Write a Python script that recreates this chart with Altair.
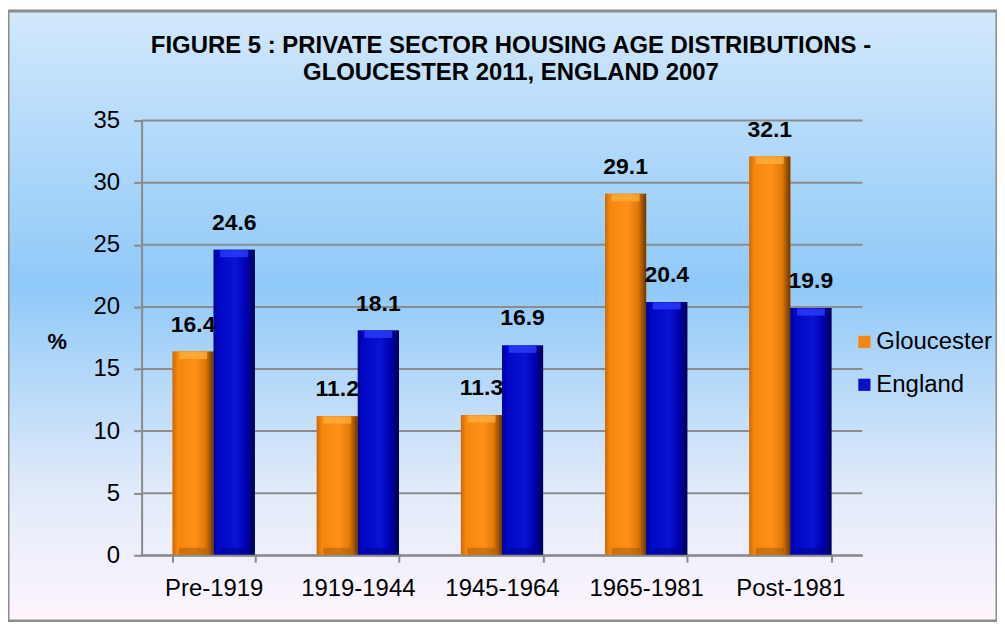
import altair as alt
import pandas as pd

categories = ["Pre-1919", "1919-1944", "1945-1964", "1965-1981", "Post-1981"]
gloucester = [16.4, 11.2, 11.3, 29.1, 32.1]
england = [24.6, 18.1, 16.9, 20.4, 19.9]
series = ["Gloucester", "England"]
y_ticks = [0, 5, 10, 15, 20, 25, 30, 35]
title_lines = ["FIGURE 5 : PRIVATE SECTOR HOUSING AGE DISTRIBUTIONS -",
               "GLOUCESTER 2011, ENGLAND 2007"]

rows = []
for c, g, e in zip(categories, gloucester, england):
    rows.append({"period": c, "area": "Gloucester", "pct": g})
    rows.append({"period": c, "area": "England", "pct": e})
df = pd.DataFrame(rows)
grid_df = pd.DataFrame({"v": y_ticks})

W, H = 723, 436
FONT = "Liberation Sans"

x_enc = alt.X("period:N", sort=categories,
              scale=alt.Scale(domain=categories, paddingInner=0.43, paddingOuter=0.215),
              axis=alt.Axis(title=None, labelAngle=0, labelFontSize=24, labelColor="#000000",
                            labelFont=FONT, labelPadding=14, tickBand="extent", tickSize=7,
                            tickWidth=2, tickColor="#8a8a8a", domainColor="#8a8a8a",
                            domainWidth=2, grid=False, zindex=1))
xoff = alt.XOffset("area:N", sort=series,
                   scale=alt.Scale(domain=series, paddingInner=0, paddingOuter=0))
y_enc = alt.Y("pct:Q", scale=alt.Scale(domain=[0, 35], nice=False),
              axis=alt.Axis(values=y_ticks, title="%", titleAngle=0, titleFontSize=22,
                            titleFont=FONT, titleFontWeight="bold", titleX=-85, titleY=222,
                            titleAlign="center", titleBaseline="middle",
                            labelFontSize=24, labelFont=FONT, labelColor="#000000",
                            labelPadding=14, tickSize=8, tickWidth=2, tickColor="#8a8a8a",
                            domainColor="#8a8a8a", domainWidth=2, grid=False, zindex=1))

bg_grad = alt.Gradient(gradient="linear", x1=0, x2=0, y1=0, y2=1, stops=[
    alt.GradientStop(offset=0, color="#d2e8fb"),
    alt.GradientStop(offset=0.45, color="#8fc9f8"),
    alt.GradientStop(offset=0.78, color="#e0eafa"),
    alt.GradientStop(offset=1, color="#fff5fd"),
])
one = alt.Data(values=[{"k": 1}])
background = alt.Chart(one).mark_rect(fill=bg_grad, clip=False).encode(
    x=alt.value(-134), x2=alt.value(858), y=alt.value(-110), y2=alt.value(502))
frame = alt.Chart(one).mark_rect(fill=None, stroke="#8c8c8c", strokeWidth=3, clip=False).encode(
    x=alt.value(-134), x2=alt.value(858), y=alt.value(-110), y2=alt.value(502))

grid = alt.Chart(grid_df).mark_rule(color="#8c8c8c", strokeWidth=2).encode(
    y=alt.Y("v:Q", scale=alt.Scale(domain=[0, 35], nice=False)))

legend_bars = alt.Chart(df).mark_bar().encode(
    x=x_enc, xOffset=xoff, y=y_enc,
    color=alt.Color("area:N", sort=series,
                    scale=alt.Scale(domain=series, range=["#f7850e", "#0a10c8"]),
                    legend=alt.Legend(title=None, orient="none", legendX=713, legendY=210,
                                      symbolType="square", symbolSize=150,
                                      symbolStrokeWidth=0, labelFontSize=24,
                                      labelFont=FONT, labelColor="#000000",
                                      labelOffset=0, rowPadding=19)))

orange_grad = alt.Gradient(gradient="linear", x1=0, x2=1, y1=0, y2=0, stops=[
    alt.GradientStop(offset=0, color="#c86a08"),
    alt.GradientStop(offset=0.12, color="#f7850e"),
    alt.GradientStop(offset=0.55, color="#ff9018"),
    alt.GradientStop(offset=0.8, color="#e07808"),
    alt.GradientStop(offset=1, color="#6a3800"),
])
blue_grad = alt.Gradient(gradient="linear", x1=0, x2=1, y1=0, y2=0, stops=[
    alt.GradientStop(offset=0, color="#00009a"),
    alt.GradientStop(offset=0.12, color="#0008c4"),
    alt.GradientStop(offset=0.55, color="#0a12d4"),
    alt.GradientStop(offset=0.8, color="#0000b0"),
    alt.GradientStop(offset=1, color="#000050"),
])

def series_layers(name, grad, light, dark):
    base = alt.Chart(df).transform_filter(alt.datum.area == name)
    bar = base.mark_bar(fill=grad).encode(x=x_enc, xOffset=xoff, y=y_enc)
    top = base.mark_tick(color=light, thickness=7, size=28, yOffset=4, opacity=0.75).encode(
        x=x_enc, xOffset=xoff, y=y_enc)
    bottom = base.mark_tick(color=dark, thickness=7, size=28, yOffset=-4, opacity=0.45).encode(
        x=x_enc, xOffset=xoff, y=alt.datum(0))
    return [bar, top, bottom]

labels = alt.Chart(df).mark_text(baseline="bottom", dy=-15, fontSize=23, fontWeight="bold",
                                 font=FONT, color="#000000").encode(
    x=x_enc, xOffset=xoff, y=y_enc, text=alt.Text("pct:Q", format=".1f"))

layers = [background, frame, grid, legend_bars]
layers += series_layers("Gloucester", orange_grad, "#ffb040", "#9a5200")
layers += series_layers("England", blue_grad, "#3040ff", "#000080")
layers += [labels]

chart = alt.layer(*layers).properties(
    width=W, height=H,
    autosize=alt.AutoSizeParams(type="none"),
    padding={"left": 134, "top": 112, "right": 135, "bottom": 66},
    title=alt.TitleParams(text=title_lines, fontSize=24, fontWeight="bold", font=FONT,
                          color="#000000", anchor="middle", dx=9, offset=-76, lineHeight=27),
    background="#ffffff",
).configure_view(stroke=None)

chart.save("out.html", embed_options={"renderer": "svg", "actions": False})
